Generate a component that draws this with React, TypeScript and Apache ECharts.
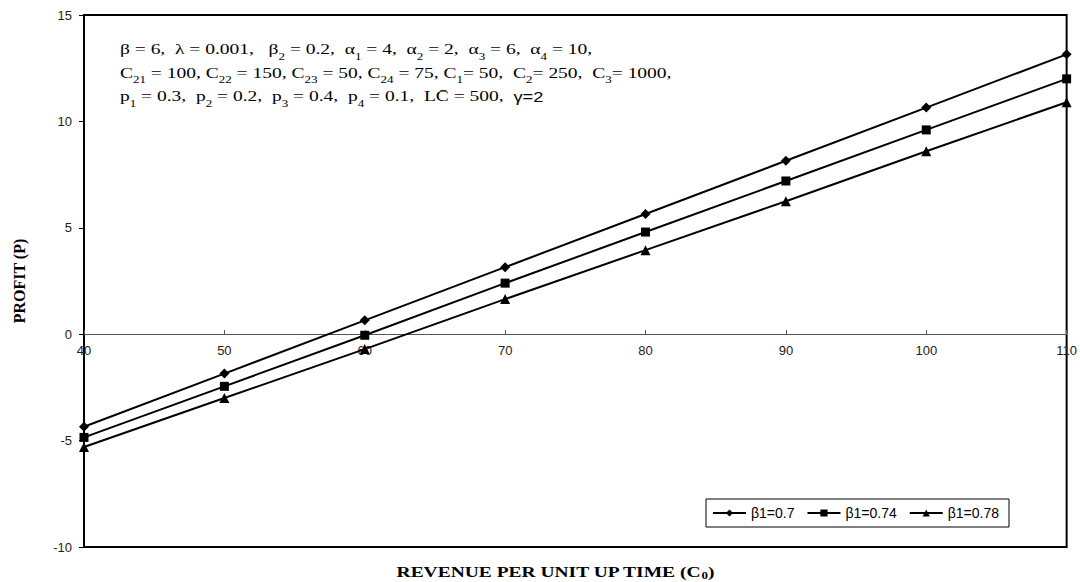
import React, { useEffect, useRef } from "react";
import * as echarts from "echarts";

const xValues = [40, 50, 60, 70, 80, 90, 100, 110];
const seriesNames = ["β1=0.7", "β1=0.74", "β1=0.78"];
const profitB070 = [-4.35, -1.85, 0.65, 3.15, 5.65, 8.15, 10.65, 13.15];
const profitB074 = [-4.85, -2.45, -0.05, 2.4, 4.8, 7.2, 9.6, 12.0];
const profitB078 = [-5.3, -3.0, -0.7, 1.65, 3.95, 6.25, 8.6, 10.9];
const symbols = ["diamond", "rect", "triangle"];
const symbolSizes = [10, 9, 10];

const X_MIN = 40;
const X_MAX = 110;
const Y_MIN = -10;
const Y_MAX = 15;

const SERIF = "'Liberation Serif', 'Times New Roman', serif";
const SANS = "'Liberation Sans', Arial, sans-serif";

const annotation = [
  "β = 6,  λ = 0.001,   β{s|2} = 0.2,  α{s|1} = 4,  α{s|2} = 2,  α{s|3} = 6,  α{s|4} = 10,",
  "C{s|21} = 100, C{s|22} = 150, C{s|23} = 50, C{s|24} = 75, C{s|1}= 50,  C{s|2}= 250,  C{s|3}= 1000,",
  "p{s|1} = 0.3,  p{s|2} = 0.2,  p{s|3} = 0.4,  p{s|4} = 0.1,  LC\u0304 = 500,  {g|γ=2}",
].join("\n");

const W = 1080;
const H = 582;
const GRID = { left: 84, right: 9, top: 15, bottom: 35 };

export default function App() {
  const ref = useRef<HTMLDivElement>(null);
  useEffect(() => {
    if (!ref.current) return;
    const chart = echarts.init(ref.current, undefined, { renderer: "svg" });
    const data = [profitB070, profitB074, profitB078];
    const plotH = H - GRID.top - GRID.bottom;
    const zeroOffset = -(plotH * (0 - Y_MIN)) / (Y_MAX - Y_MIN);
    chart.setOption({
      animation: false,
      backgroundColor: "#fff",
      grid: {
        ...GRID,
        show: true,
        borderColor: "#000",
        borderWidth: 2,
        backgroundColor: "transparent",
      },
      xAxis: {
        type: "value",
        min: X_MIN,
        max: X_MAX,
        interval: 10,
        position: "bottom",
        offset: zeroOffset,
        axisLine: { show: true, onZero: false, lineStyle: { color: "#555", width: 1 } },
        axisTick: { show: true, inside: true, length: 4, lineStyle: { color: "#555" } },
        axisLabel: { color: "#222", fontFamily: SANS, fontSize: 13, margin: 10 },
        splitLine: { show: false },
      },
      yAxis: {
        type: "value",
        min: Y_MIN,
        max: Y_MAX,
        interval: 5,
        name: "PROFIT (P)",
        nameLocation: "middle",
        nameGap: 57,
        nameTextStyle: { fontFamily: SERIF, fontWeight: "bold", fontSize: 16, color: "#000" },
        axisLine: { show: true, lineStyle: { color: "#000", width: 2 } },
        axisTick: { show: true, inside: false, length: 5, lineStyle: { color: "#000" } },
        axisLabel: { color: "#222", fontFamily: SANS, fontSize: 13, margin: 12 },
        splitLine: { show: false },
      },
      legend: {
        left: 706,
        top: 499,
        padding: [7, 10, 7, 6],
        itemGap: 12,
        itemWidth: 33,
        itemHeight: 9,
        borderColor: "#000",
        borderWidth: 1,
        backgroundColor: "#fff",
        textStyle: { fontFamily: SANS, fontSize: 14, color: "#000" },
        data: seriesNames,
      },
      series: seriesNames.map((name, i) => ({
        name,
        type: "line",
        data: xValues.map((x, j) => [x, data[i][j]]),
        symbol: symbols[i],
        symbolSize: symbolSizes[i],
        showSymbol: true,
        lineStyle: { color: "#000", width: 2 },
        itemStyle: { color: "#000" },
        clip: false,
      })),
      graphic: [
        {
          type: "text",
          x: 120,
          y: 38,
          scaleX: 1.3,
          style: {
            text: annotation,
            fontFamily: SERIF,
            fontSize: 15,
            lineHeight: 23.5,
            fill: "#000",
            textAlign: "left",
            textVerticalAlign: "top",
            rich: {
              s: { fontFamily: SERIF, fontSize: 10, lineHeight: 13, verticalAlign: "bottom", fill: "#000" },
              g: { fontFamily: SANS, fontSize: 14, fill: "#000" },
            },
          },
        },
        {
          type: "text",
          x: 555,
          y: 563,
          scaleX: 1.3,
          style: {
            text: "REVENUE PER UNIT UP TIME (C{s|0})",
            fontFamily: SERIF,
            fontWeight: "bold",
            fontSize: 15,
            lineHeight: 18,
            fill: "#000",
            textAlign: "center",
            textVerticalAlign: "top",
            rich: {
              s: { fontFamily: SERIF, fontWeight: "bold", fontSize: 10, lineHeight: 11, verticalAlign: "bottom", fill: "#000" },
            },
          },
        },
      ],
    });
    return () => chart.dispose();
  }, []);
  return (
    <div
      ref={ref}
      style={{ position: "fixed", left: 0, top: 0, width: W, height: H }}
    />
  );
}
